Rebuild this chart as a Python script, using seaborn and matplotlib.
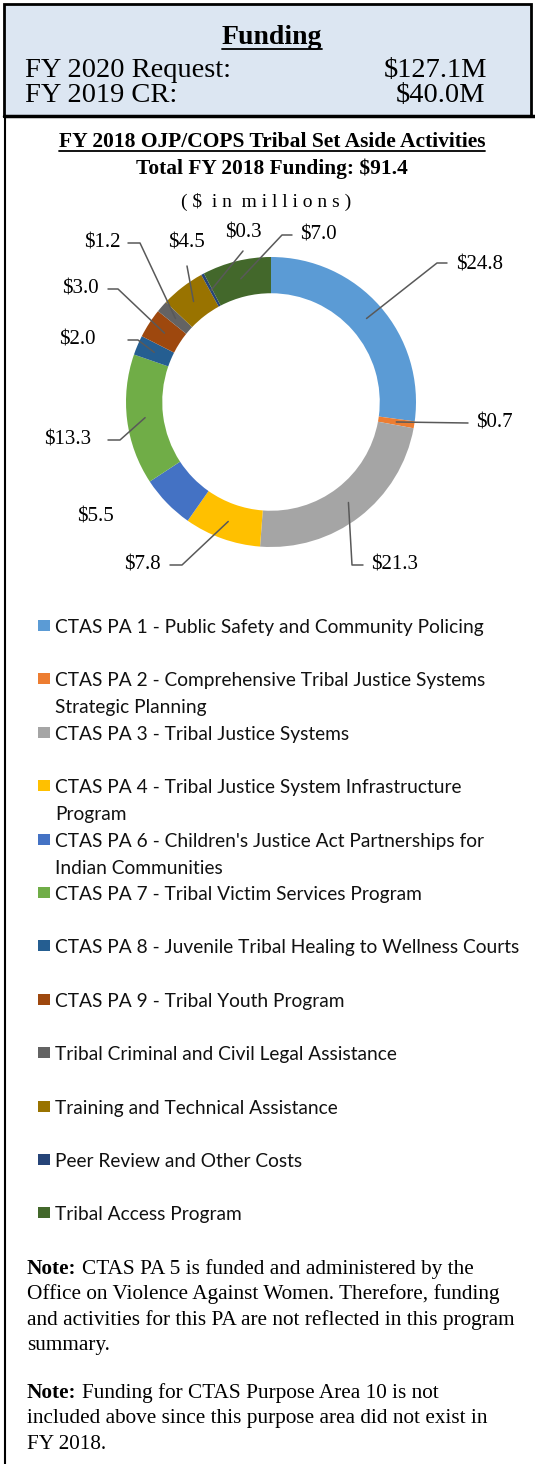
import matplotlib
matplotlib.use("Agg")
from matplotlib import pyplot as plt
from matplotlib.patches import Rectangle
from matplotlib.lines import Line2D
import numpy as np
import seaborn as sns

sns.set_theme(style="white")
plt.rcParams['font.family'] = ['Liberation Serif', 'DejaVu Serif']
plt.rcParams['text.parse_math'] = False
plt.rcParams['text.color'] = 'black'

W, H = 535, 1464

# chart data, clockwise from 12 o'clock
categories = [
    'CTAS PA 1 - Public Safety and Community Policing',
    'CTAS PA 2 - Comprehensive Tribal Justice Systems\nStrategic Planning',
    'CTAS PA 3 - Tribal Justice Systems',
    'CTAS PA 4 - Tribal Justice System Infrastructure\nProgram',
    "CTAS PA 6 - Children's Justice Act Partnerships for\nIndian Communities",
    'CTAS PA 7 - Tribal Victim Services Program',
    'CTAS PA 8 - Juvenile Tribal Healing to Wellness Courts',
    'CTAS PA 9 - Tribal Youth Program',
    'Tribal Criminal and Civil Legal Assistance',
    'Training and Technical Assistance',
    'Peer Review and Other Costs',
    'Tribal Access Program',
]
values = [24.8, 0.7, 21.3, 7.8, 5.5, 13.3, 2.0, 3.0, 1.2, 4.5, 0.3, 7.0]
value_labels = ['$%.1f' % v for v in values]
colors = sns.color_palette(['#5B9BD5', '#ED7D31', '#A5A5A5', '#FFC000', '#4472C4', '#70AD47',
                            '#255E91', '#9E480E', '#636363', '#997300', '#264478', '#43682B'])

request_2020 = '$127.1M'
cr_2019 = '$40.0M'
total_2018 = 91.4

# label layout in pixels: elbow point, line end, text anchor, alignment
label_elbow = [(437, 263), (468, 423), (352, 565), (182, 565), None, (120, 440),
               (138, 340), (118, 289), (140, 243), (187, 266), (243, 251), (282, 235)]
label_end = [(447, 263), (468, 423), (363, 565), (170, 565), None, (108, 440),
             (128, 340), (108, 289), (128, 243), (187, 266), (243, 251), (292, 235)]
label_text = [(456, 265), (476, 423), (371, 565), (161, 565), (95, 517), (91, 440),
              (96, 340), (99, 289), (121, 243), (186, 243), (243, 233), (300, 235)]
label_ha = ['left', 'left', 'left', 'right', 'center', 'right',
            'right', 'right', 'right', 'center', 'center', 'left']


def fx(px):
    return px / W


def fy(py):
    return 1 - py / H


fig = plt.figure(figsize=(W / 100, H / 100), dpi=100)
fig.patch.set_facecolor('white')

# header box
fig.patches.append(Rectangle((fx(4), fy(116)), fx(527), 112 / H, transform=fig.transFigure,
                             facecolor='#DCE6F2', edgecolor='black', linewidth=2))
fig.lines.append(Line2D([fx(4), fx(535)], [fy(116), fy(116)], transform=fig.transFigure,
                        color='black', linewidth=2.5))
fig.lines.append(Line2D([fx(5), fx(5)], [fy(116), fy(1464)], transform=fig.transFigure,
                        color='black', linewidth=1.5))

t_fund = fig.text(fx(272), fy(44), 'Funding', ha='center', va='baseline', fontsize=20, fontweight='bold')
fig.text(fx(25), fy(77), 'FY 2020 Request:', ha='left', va='baseline', fontsize=20.5)
fig.text(fx(487), fy(77), request_2020, ha='right', va='baseline', fontsize=20.5)
fig.text(fx(25), fy(102), 'FY 2019 CR:', ha='left', va='baseline', fontsize=20.5)
fig.text(fx(485), fy(102), cr_2019, ha='right', va='baseline', fontsize=20.5)

t_title = fig.text(fx(272), fy(147), 'FY 2018 OJP/COPS Tribal Set Aside Activities', ha='center',
                   va='baseline', fontsize=15.5, fontweight='bold')
fig.text(fx(272), fy(174), 'Total FY 2018 Funding: $%.1f' % total_2018, ha='center', va='baseline',
         fontsize=15.4, fontweight='bold')
fig.text(fx(266), fy(207), '( $  i n  m i l l i o n s )', ha='center', va='baseline', fontsize=14)

# donut
ax = fig.add_axes([0, fy(600), 1, 400 / H])
wedges, _ = ax.pie(values, colors=colors, startangle=90, counterclock=False, radius=1,
                   wedgeprops=dict(width=0.25, linewidth=0))
ax.set_aspect('auto')
ax.set_xlim(-271 / 145, (W - 271) / 145)
ax.set_ylim((402 - 600) / 145, (402 - 200) / 145)
ax.axis('off')


def to_data(p):
    return (p[0] - 271) / 145, (402 - p[1]) / 145


for w, lab, el, en, tp, ha in zip(wedges, value_labels, label_elbow, label_end, label_text, label_ha):
    mid = np.deg2rad((w.theta1 + w.theta2) / 2)
    sx, sy = 0.875 * np.cos(mid), 0.875 * np.sin(mid)
    if el is not None:
        ex, ey = to_data(el)
        nx, ny = to_data(en)
        ax.plot([sx, ex, nx], [sy, ey, ny], color='#595959', linewidth=1.1, clip_on=False)
    tx, ty = to_data(tp)
    ax.text(tx, ty, lab, ha=ha, va='center', fontsize=15, clip_on=False)

# legend
leg_font = 'Lato'
for i, (cat, c) in enumerate(zip(categories, colors)):
    base = 633 + i * 53.4
    fig.patches.append(Rectangle((fx(38), fy(base - 2)), 12 / W, 11 / H, transform=fig.transFigure,
                                 facecolor=c, edgecolor='none'))
    for j, line in enumerate(cat.split('\n')):
        fig.text(fx(55), fy(base + j * 27), line, ha='left', va='baseline', fontsize=13.8,
                 family=leg_font, color='#111111')

# notes
note1 = ['CTAS PA 5 is funded and administered by the',
         'Office on Violence Against Women. Therefore, funding',
         'and activities for this PA are not reflected in this program',
         'summary.']
note2 = ['Funding for CTAS Purpose Area 10 is not',
         'included above since this purpose area did not exist in',
         'FY 2018.']
for start, lines in ((1274, note1), (1398, note2)):
    fig.text(fx(27), fy(start), 'Note:', ha='left', va='baseline', fontsize=15.3, fontweight='bold')
    for j, line in enumerate(lines):
        x0 = 82 if j == 0 else 27
        fig.text(fx(x0), fy(start + j * 25.3), line, ha='left', va='baseline', fontsize=15.3)

# underlines
fig.canvas.draw()
r = fig.canvas.get_renderer()
for t, uy in ((t_fund, 49), (t_title, 151)):
    bb = t.get_window_extent(renderer=r)
    fig.lines.append(Line2D([bb.x0 / W, bb.x1 / W], [fy(uy), fy(uy)], transform=fig.transFigure,
                            color='black', linewidth=1.3))

fig.savefig('out.png', dpi=100)
